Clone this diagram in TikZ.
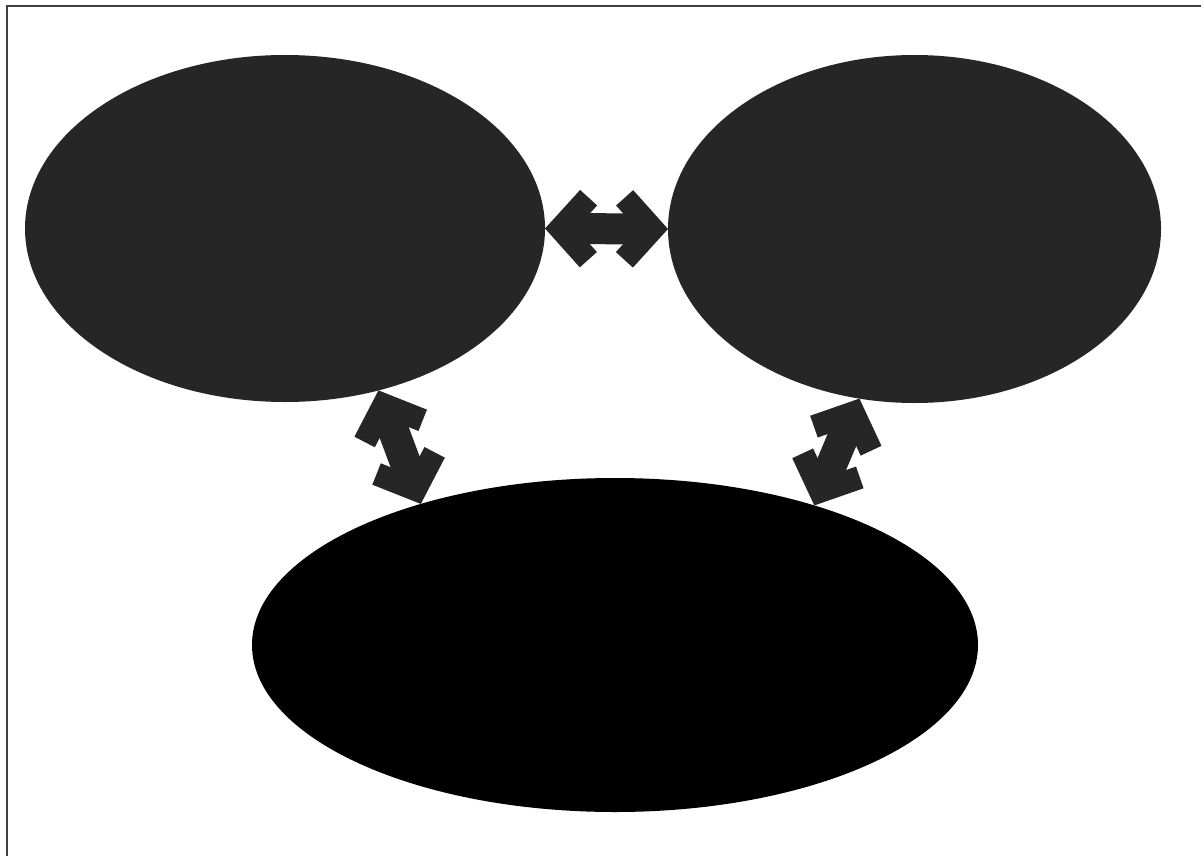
\documentclass[tikz,border=0pt]{standalone}
\usetikzlibrary{shapes.geometric,arrows.meta}
\definecolor{darkfill}{HTML}{262626}
\begin{document}
\begin{tikzpicture}[x=1pt,y=-1pt,
  blob/.style={ellipse, draw=none, inner sep=0pt, outer sep=0pt, fill=darkfill},
  barb/.tip={Straight Barb[length=28pt,width=62pt,line width=23pt,line cap=butt,line join=miter]},
  link/.style={draw=darkfill, line width=31pt, barb-barb}
]
\useasboundingbox (0,0) rectangle (1201,856);
\fill[white] (0,0) rectangle (1201,856);
\draw[line width=2pt, black!75] (7,856) -- (7,6.5) -- (1201,6.5);
\node[blob, minimum width=520pt, minimum height=347pt] (TL) at (285,228.5) {};
\node[blob, minimum width=493pt, minimum height=348pt] (TR) at (914.5,229) {};
\node[blob, fill=black, minimum width=726pt, minimum height=334pt] (B) at (615,645) {};
\draw[link] (TL.east) -- (TR.west);
\draw[link] (TL.-60) -- (B.144);
\draw[link] (TR.-108) -- (B.35);
\end{tikzpicture}
\end{document}
